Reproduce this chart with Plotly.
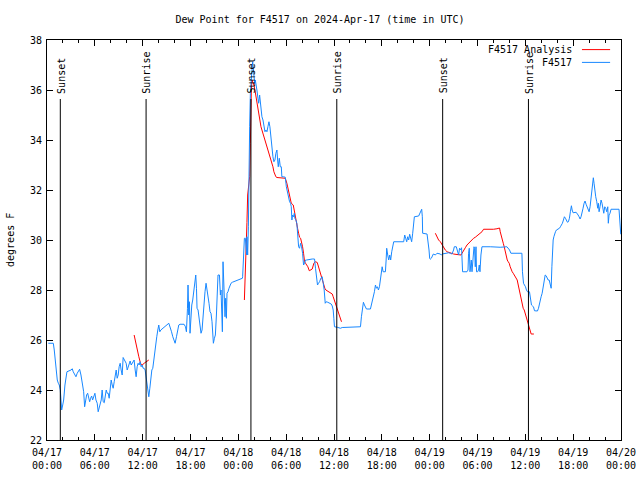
import plotly.graph_objects as go
import pandas as pd

start = pd.Timestamp("2024-04-17 00:00")
end = pd.Timestamp("2024-04-20 00:00")

# ---- observed dew point F4517 (hours since 2024-04-17 00:00 UTC, degrees F)
obs_hours = [
    0.16, 0.79, 0.91, 1.13, 1.29, 1.42, 1.54, 1.67, 1.75, 1.84, 1.97, 2.09, 2.25, 2.38, 2.50,
    3.01, 3.17, 3.29, 3.51, 3.63, 3.79, 3.97, 4.09, 4.26, 4.42, 4.60, 4.72, 4.85, 4.97, 5.10,
    5.22, 5.35, 5.47, 5.60, 5.72, 5.85, 6.01, 6.14, 6.30, 6.42, 6.55, 6.67, 6.80, 6.92, 7.05,
    7.18, 7.30, 7.43, 7.55, 7.68, 7.80, 7.93, 8.05, 8.18, 8.30, 8.43, 8.55, 8.68, 8.80, 8.93,
    9.05, 9.18, 9.30, 9.43, 9.55, 9.68, 9.80, 9.93, 10.06, 10.18, 10.31, 10.43, 10.56, 10.68,
    10.81, 10.93, 11.06, 11.18, 11.31, 11.43, 11.56, 11.68, 11.81, 11.93, 12.06, 12.18, 12.31,
    12.40, 12.56, 12.65, 12.77, 12.90, 13.02, 13.15, 13.27, 13.40, 13.52, 13.65, 13.77, 13.90,
    14.02, 14.15, 14.28, 15.28, 15.44, 15.62, 15.78, 15.94, 16.07, 16.24, 16.37, 16.53, 16.69,
    17.19, 17.37, 17.49, 17.62, 17.69, 17.78, 17.87, 17.94, 18.07, 18.16, 18.28, 18.41, 18.53,
    18.66, 18.75, 18.82, 18.95, 19.07, 19.20, 19.32, 19.45, 19.57, 19.70, 19.82, 19.95, 20.07,
    20.20, 20.32, 20.45, 20.57, 20.70, 20.79, 20.87, 21.00, 21.12, 21.25, 21.38, 21.45, 21.63,
    21.75, 21.83, 21.91, 22.00, 22.08, 22.20, 22.33, 22.41, 22.50, 22.58, 22.70, 22.83, 22.95,
    23.08, 23.25, 23.63, 24.08, 24.51, 24.54, 24.67, 24.76, 24.88, 24.96, 25.04, 25.08, 25.17,
    25.26, 25.29, 25.33, 25.42, 25.51, 25.58, 25.71, 25.80, 25.88, 25.96, 26.05, 26.13, 26.21,
    26.33, 26.46, 26.55, 26.67, 26.76, 26.84, 26.96, 27.09, 27.21, 27.34, 27.46, 27.59, 27.71,
    27.84, 27.96, 28.09, 28.21, 28.34, 28.46, 28.59, 28.71, 28.84, 28.93, 29.01, 29.14, 29.26,
    29.39, 29.46, 29.68, 29.89, 30.02, 30.14, 30.30, 30.43, 30.55, 30.64, 30.72, 30.80, 30.93,
    31.02, 31.09, 31.22, 31.34, 31.47, 31.56, 31.68, 31.81, 31.93, 32.06, 32.18, 32.31, 32.43,
    32.56, 33.27, 33.56, 33.68, 33.81, 33.93, 34.06, 34.19, 34.35, 34.52, 34.65, 34.77, 34.90,
    35.02, 35.22, 35.44, 35.65, 35.78, 35.90, 35.98, 36.06, 36.40, 36.60, 36.81, 37.03, 37.98,
    39.32, 39.44, 39.57, 39.69, 39.82, 39.94, 40.07, 40.57, 40.70, 40.82, 40.95, 41.07, 41.20,
    41.32, 41.45, 41.57, 41.70, 41.82, 41.91, 42.04, 42.16, 42.45, 42.54, 42.61, 42.74, 42.86,
    42.99, 43.11, 43.24, 43.36, 43.49, 44.74, 44.87, 44.99, 45.12, 45.24, 45.37, 45.49, 45.62,
    45.74, 45.87, 45.99, 46.08, 46.62, 46.75, 46.87, 47.00, 47.08, 47.12, 47.67, 47.80, 47.92,
    48.00, 48.08, 48.21, 48.34, 48.46, 48.71, 48.92, 49.34, 49.46, 49.59, 49.96, 50.38, 50.59,
    50.80, 51.00, 51.09, 51.34, 51.50, 51.63, 51.75, 51.88, 52.00, 52.13, 52.68, 52.81, 52.88,
    52.97, 53.06, 53.13, 53.22, 53.31, 53.38, 53.47, 53.56, 53.63, 53.72, 53.81, 53.88, 54.01,
    54.13, 54.22, 54.31, 54.43, 54.56, 55.60, 56.85, 57.69, 58.02, 58.19, 59.57, 59.64, 59.77,
    59.89, 60.02, 60.14, 60.27, 60.52, 60.65, 60.77, 60.90, 61.02, 61.15, 61.27, 61.52, 61.65,
    61.77, 61.98, 62.11, 62.24, 62.36, 62.49, 62.61, 62.74, 62.86, 62.99, 63.11, 63.24, 63.33,
    63.40, 63.49, 63.58, 63.65, 63.78, 63.90, 64.15, 64.28, 64.40, 64.53, 64.65, 64.78, 64.90,
    65.03, 65.15, 65.28, 65.40, 65.53, 65.65, 65.78, 65.87, 65.99, 66.37, 66.49, 66.62, 66.74,
    66.87, 66.99, 67.12, 67.24, 67.37, 67.49, 67.62, 67.74, 67.87, 68.00, 68.12, 68.24, 68.37,
    68.46, 68.53, 68.62, 68.71, 68.83, 68.96, 69.08, 69.16, 69.25, 69.37, 69.50, 69.62, 69.71,
    69.84, 69.96, 70.09, 70.21, 70.34, 70.41, 70.50, 70.62, 70.75, 71.75, 71.84, 71.97,
]
obs_values = [
    25.87, 25.87, 25.6, 24.8, 24.4, 24.27, 24.2, 24.0, 23.7, 23.2, 23.4, 23.6, 24.2, 24.53, 24.73,
    24.8, 24.85, 24.73, 24.6, 24.53, 24.67, 24.8, 24.83, 24.6, 24.33, 23.93, 23.33, 23.6, 23.8, 23.87,
    23.67, 23.53, 23.67, 23.76, 23.6, 23.73, 23.87, 23.6, 23.47, 23.13, 23.27, 23.4, 23.6, 24.0, 23.53,
    23.49, 23.73, 24.0, 23.87, 23.87, 23.67, 24.0, 24.4, 24.2, 24.07, 24.33, 24.67, 24.8, 24.47, 24.6,
    24.93, 25.07, 24.8, 24.6, 25.3, 25.2, 25.13, 25.07, 24.8, 24.93, 25.07, 25.16, 25.0, 25.07,
    25.13, 25.2, 24.8, 24.53, 24.93, 25.07, 25.0, 25.13, 24.93, 25.0, 24.87, 24.87, 24.8,
    24.6, 24.33, 24.07, 23.73, 24.07, 24.47, 24.8, 24.87, 25.27, 25.53, 25.87, 26.13, 26.4,
    26.6, 26.33, 26.4, 26.67, 26.53, 26.33, 26.13, 26.0, 25.87, 26.13, 26.33, 26.6, 26.63,
    26.63, 26.53, 26.33, 27.27, 28.2, 27.0, 27.53, 26.27, 27.0, 27.4, 27.6, 27.93, 28.33,
    28.6, 28.07, 27.27, 27.2, 26.93, 26.6, 26.27, 26.4, 26.87, 27.67, 27.93, 28.27, 27.93,
    27.8, 27.47, 27.13, 27.07, 26.73, 26.2, 25.87, 26.07, 26.2, 27.0, 27.8, 28.6, 28.6,
    27.8, 28.0, 27.4, 26.33, 29.13, 27.8, 26.93, 27.67, 26.87, 27.87, 27.93, 28.07, 28.2,
    28.27, 28.31, 28.36, 28.43, 28.47, 28.53, 29.27, 30.07, 30.07, 29.73, 29.4, 30.13, 29.4,
    30.53, 31.6, 33.2, 34.53, 35.87, 36.4, 36.8, 37.13, 36.87, 36.53, 36.27, 36.4, 36.13,
    36.0, 35.67, 35.47, 35.8, 35.53, 35.2, 34.93, 34.8, 34.53, 34.33, 34.4, 34.33, 34.53,
    34.73, 34.53, 34.0, 33.67, 33.33, 33.13, 33.2, 33.47, 33.6, 33.2, 32.93, 33.27, 32.93,
    32.93, 32.53, 32.53, 32.51, 32.13, 31.93, 31.73, 31.53, 31.47, 31.33, 30.8, 31.0, 30.93,
    31.07, 30.87, 30.8, 30.67, 30.1, 29.73, 29.67, 29.87, 29.73, 29.47, 29.0, 29.07, 29.2,
    29.2, 29.24, 29.24, 28.87, 28.4, 28.2, 28.27, 28.33, 28.47, 28.53, 28.27, 28.0, 27.47,
    27.53, 27.51, 27.47, 27.44, 27.36, 27.2, 26.87, 26.53, 26.51, 26.5, 26.47, 26.5, 26.5,
    26.53, 26.93, 27.27, 27.51, 27.4, 27.33, 27.24, 27.24, 27.4, 27.53, 27.73, 27.93, 28.2,
    28.07, 28.13, 28.0, 28.13, 28.4, 28.73, 28.93, 28.73, 28.73, 29.2, 29.67, 29.4, 29.2,
    29.4, 29.2, 29.53, 29.73, 29.93, 29.93, 30.2, 30.07, 29.93, 30.13, 30.0, 30.23, 30.07,
    29.93, 30.27, 30.67, 30.93, 30.96, 31.07, 31.13, 31.23, 30.93, 30.27, 30.24, 30.0, 29.6,
    29.27, 29.23, 29.27, 29.4, 29.44, 29.4, 29.47, 29.44, 29.4, 29.44, 29.47, 29.49, 29.47,
    29.44, 29.6, 29.73, 29.73, 29.47, 29.4, 29.67, 29.6, 29.69, 28.73, 28.73, 28.8, 29.47,
    29.67, 28.73, 28.93, 29.2, 28.73, 29.13, 29.4, 29.73, 29.67, 28.93, 29.73, 28.73, 28.73,
    28.8, 29.0, 28.73, 29.4, 29.73, 29.73, 29.71, 29.73, 29.6, 29.47, 29.47, 28.73, 28.27,
    28.2, 28.13, 28.0, 27.93, 27.93, 27.73, 27.4, 27.36, 27.33, 27.17, 27.16, 27.16, 27.27,
    27.47, 27.73, 27.87, 28.07, 28.4, 28.6, 28.57, 28.47, 28.4, 28.4, 28.27, 28.07, 28.93,
    29.53, 30.0, 30.13, 30.23, 30.33, 30.4, 30.43, 30.47, 30.53, 30.6, 30.67, 30.8, 30.93,
    30.87, 30.76, 30.71, 30.73, 30.87, 31.13, 31.37, 31.2, 31.09, 31.11, 31.07, 31.0, 30.93,
    30.84, 30.93, 31.07, 31.27, 31.47, 31.56, 31.43, 31.33, 31.27, 31.13, 31.33, 31.73, 32.0,
    32.33, 32.49, 32.27, 31.93, 31.73, 31.53, 31.27, 31.47, 31.13, 31.33, 31.6, 31.47, 31.27,
    31.07, 31.33, 31.27, 31.13, 31.33, 30.67, 31.0, 31.07, 31.23, 31.23, 30.73, 30.23,
]

# ---- F4517 analysis segments
ana1_hours = [10.93, 11.21, 11.52, 11.73, 11.93, 12.27, 12.77]
ana1_values = [26.2, 25.75, 25.33, 25.07, 25.0, 25.09, 25.2]

ana2_hours = [
    24.76, 24.83, 24.92, 25.01, 25.08, 25.17, 25.42, 25.51, 25.55, 25.63, 25.71, 25.83, 25.96,
    26.08, 26.21, 26.33, 26.46, 26.59, 26.71, 26.84, 26.96, 27.09, 27.21, 27.34, 27.46, 27.59,
    27.71, 27.84, 27.96, 28.09, 28.21, 28.34, 28.46, 28.59, 28.71, 28.84, 29.46, 29.89, 30.09,
    30.22, 30.34, 30.47, 30.64, 30.89, 31.05, 31.18, 31.31, 31.43, 31.56, 31.68, 31.81, 31.93,
    32.06, 32.18, 32.31, 32.43, 32.56, 32.72, 32.90, 33.06, 33.27, 33.47, 33.68, 33.90, 34.06,
    34.22, 34.40, 34.56, 34.72, 34.85, 34.98, 35.15, 35.35, 35.56, 35.78, 35.90, 36.03, 36.15,
    36.28, 36.40, 36.53, 36.65, 36.81, 36.94,
]
ana2_values = [
    27.6, 28.13, 29.33, 30.0, 30.7, 31.8, 32.53, 33.87, 35.47, 36.0, 36.4, 36.33, 36.2,
    36.0, 35.73, 35.47, 35.2, 34.93, 34.73, 34.53, 34.4, 34.27, 34.13, 34.0, 33.87, 33.73,
    33.6, 33.47, 33.33, 33.2, 33.07, 32.93, 32.73, 32.6, 32.53, 32.5, 32.47, 32.47, 32.27,
    32.07, 31.87, 31.6, 31.47, 31.4, 31.07, 30.93, 30.73, 30.47, 30.27, 30.11, 30.07, 29.93,
    29.73, 29.47, 29.13, 29.07, 29.0, 28.93, 28.77, 28.8, 28.84, 29.07, 29.13, 29.1, 28.93,
    28.67, 28.53, 28.33, 28.2, 28.07, 28.0, 27.96, 27.93, 27.89, 27.84, 27.73, 27.6, 27.47,
    27.33, 27.2, 27.07, 26.93, 26.8, 26.73,
]

ana3_hours = [
    48.71, 48.92, 49.12, 49.34, 49.55, 49.75, 49.96, 50.18, 50.59, 51.00, 51.43, 51.93, 52.06,
    52.26, 52.47, 52.68, 52.88, 53.09, 53.31, 53.51, 53.72, 53.93, 54.13, 54.35, 54.56, 54.76,
    54.97, 55.39, 55.81, 56.01, 56.44, 56.77, 56.85, 56.98, 57.10, 57.23, 57.35, 57.48, 57.60,
    57.73, 57.85, 57.98, 58.10, 58.23, 58.35, 58.48, 58.60, 58.73, 58.85, 58.98, 59.11, 59.23,
    59.35, 59.48, 59.61, 59.73, 59.86, 59.98, 60.11, 60.23, 60.36, 60.48, 60.61, 60.73, 61.07,
]
ana3_values = [
    30.27, 30.13, 30.0, 29.93, 29.8, 29.67, 29.6, 29.53, 29.47, 29.44, 29.42, 29.4, 29.47,
    29.6, 29.69, 29.8, 29.87, 29.93, 30.0, 30.07, 30.11, 30.16, 30.2, 30.27, 30.33, 30.43,
    30.43, 30.4, 30.4, 30.43, 30.45, 30.48, 30.33, 30.13, 30.0, 29.87, 29.73, 29.53, 29.33,
    29.2, 29.13, 29.07, 28.93, 28.8, 28.73, 28.67, 28.6, 28.53, 28.47, 28.4, 28.2, 28.0,
    27.8, 27.6, 27.33, 27.27, 27.2, 27.07, 26.93, 26.8, 26.67, 26.47, 26.33, 26.24, 26.24,
]

# ---- sunrise / sunset markers
event_hours = [1.67, 12.43, 25.58, 36.35, 49.63, 60.39]
event_labels = ["Sunset", "Sunrise", "Sunset", "Sunrise", "Sunset", "Sunrise"]

y_ticks = [22, 24, 26, 28, 30, 32, 34, 36, 38]

title_text = "Dew Point for F4517 on 2024-Apr-17 (time in UTC)"
obs_name = "F4517"
ana_name = "F4517 Analysis"
y_title = "degrees F"


def to_time(hours):
    return [None if h is None else start + pd.Timedelta(hours=h) for h in hours]


ana_hours = ana1_hours + [None] + ana2_hours + [None] + ana3_hours
ana_values = ana1_values + [None] + ana2_values + [None] + ana3_values

RED = "#ff0000"
BLUE = "#1888ff"
FONT = "DejaVu Sans Mono"

fig = go.Figure()
fig.add_trace(go.Scatter(x=to_time(ana_hours), y=ana_values, mode="lines",
                         line=dict(color=RED, width=1), name=ana_name,
                         connectgaps=False, showlegend=False))
fig.add_trace(go.Scatter(x=to_time(obs_hours), y=obs_values, mode="lines",
                         line=dict(color=BLUE, width=1), name=obs_name,
                         showlegend=False))

shapes = []
annotations = []
for h, lab in zip(event_hours, event_labels):
    t = start + pd.Timedelta(hours=h)
    shapes.append(dict(type="line", xref="x", yref="paper", x0=t, x1=t,
                       y0=0, y1=0.8525, line=dict(color="black", width=1)))
    annotations.append(dict(x=t, xref="x", y=0.861, yref="paper", text=lab,
                            textangle=-90, showarrow=False, xanchor="center",
                            yanchor="bottom", xshift=1,
                            font=dict(family=FONT, size=10, color="black")))

# manual gnuplot-style key (text left of sample)
for i, (name, col) in enumerate([(ana_name, RED), (obs_name, BLUE)]):
    yk = 0.976 - i * 0.032
    annotations.append(dict(x=0.918, xref="paper", y=yk, yref="paper", text=name,
                            showarrow=False, xanchor="right", yanchor="middle",
                            font=dict(family=FONT, size=10, color="black")))
    shapes.append(dict(type="line", xref="paper", yref="paper", x0=0.932, x1=0.981,
                       y0=yk, y1=yk, line=dict(color=col, width=1)))

annotations.append(dict(x=-0.0645, xref="paper", y=0.5, yref="paper", text=y_title,
                        textangle=-90, showarrow=False, xanchor="center", yanchor="middle",
                        font=dict(family=FONT, size=10, color="black")))

fig.update_layout(
    width=640, height=480,
    margin=dict(l=47, r=19, t=40, b=40, autoexpand=False),
    paper_bgcolor="white", plot_bgcolor="white",
    font=dict(family=FONT, size=10, color="black"),
    title=dict(text=title_text, x=0.5, xref="container", xanchor="center",
               y=1 - 19 / 480, yref="container", yanchor="middle",
               font=dict(family=FONT, size=10, color="black")),
    shapes=shapes, annotations=annotations, showlegend=False,
)
fig.update_xaxes(
    type="date", range=[start, end], tick0=start, dtick=6 * 3600 * 1000,
    tickformat="%m/%d<br>%H:%M", ticks="inside", ticklen=6, tickcolor="black",
    showline=True, linecolor="black", linewidth=1, mirror="allticks",
    showgrid=False, zeroline=False, automargin=False, ticklabelstandoff=3,
    minor=dict(dtick=2 * 3600 * 1000, ticks="inside", ticklen=3, tickcolor="black",
               showgrid=False),
    tickfont=dict(family=FONT, size=10, color="black"),
)
fig.update_yaxes(
    range=[22, 38], tickvals=y_ticks, ticks="inside", ticklen=6, tickcolor="black",
    showline=True, linecolor="black", linewidth=1, mirror="allticks",
    showgrid=False, zeroline=False, automargin=False, ticklabelstandoff=2,
    tickfont=dict(family=FONT, size=10, color="black"),
)

fig.write_html("out.html", config={"displayModeBar": False},
               post_script="document.body.style.margin='0px';")
